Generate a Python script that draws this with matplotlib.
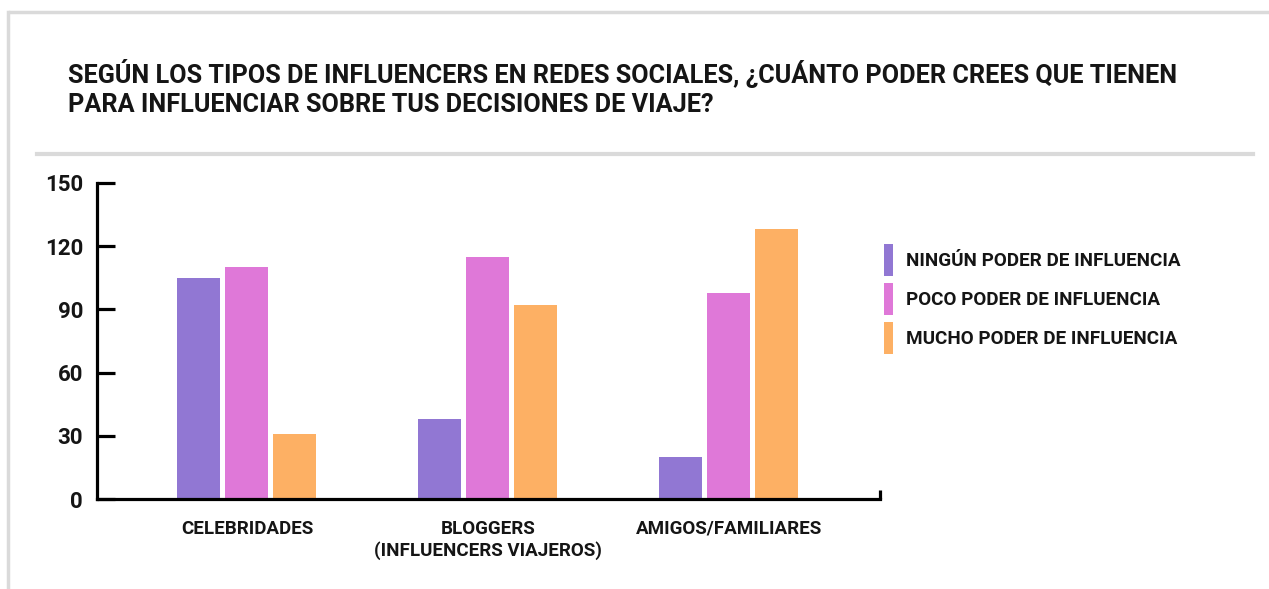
import numpy as np
import matplotlib
matplotlib.use("Agg")
import matplotlib.pyplot as plt
from matplotlib.lines import Line2D

################################################################
##### data

CATEGORIES = ["CELEBRIDADES", "BLOGGERS\n(INFLUENCERS VIAJEROS)", "AMIGOS/FAMILIARES"]
SERIES = [
    "NINGÚN PODER DE INFLUENCIA",
    "POCO PODER DE INFLUENCIA",
    "MUCHO PODER DE INFLUENCIA",
]
ningun = [105, 38, 20]
poco = [110, 115, 98]
mucho = [31, 92, 128]
Y_TICKS = [0, 30, 60, 90, 120, 150]

TITLE = ("SEGÚN LOS TIPOS DE INFLUENCERS EN REDES SOCIALES, ¿CUÁNTO PODER CREES QUE TIENEN\n"
         "PARA INFLUENCIAR SOBRE TUS DECISIONES DE VIAJE?")

COLORS = ["#9177D3", "#DF78D8", "#FDB064"]
TEXT_COLOR = "#151515"
FRAME_GRAY = "#dadada"
FONT = ["Roboto", "DejaVu Sans"]

################################################################

W, H = 1269, 589
fig = plt.figure(figsize=(W / 100, H / 100), dpi=100)

# axes box in pixels: x 97..880, y 183 (150) .. 499 (0)
ax = fig.add_axes([97 / W, 1 - 499 / H, (880 - 97) / W, (499 - 183) / H])

x = np.arange(len(CATEGORIES))
step = 0.199
width = 0.178
for i, (vals, label) in enumerate(zip([ningun, poco, mucho], SERIES)):
    ax.bar(x + (i - 1) * step, vals, width, color=COLORS[i], label=label, zorder=2)

ax.set_xlim(-0.622, 2.627)
ax.set_ylim(0, 150)
ax.set_yticks(Y_TICKS)
ax.set_xticks(x)
ax.set_xticklabels(CATEGORIES, family=FONT, weight="bold", fontsize=13.5,
                   color=TEXT_COLOR, linespacing=1.2)
ax.set_yticklabels([str(t) for t in Y_TICKS], family=FONT, weight="bold",
                   fontsize=16, color=TEXT_COLOR)

for side in ["top", "right"]:
    ax.spines[side].set_visible(False)
for side in ["left", "bottom"]:
    ax.spines[side].set_linewidth(2.3)
    ax.spines[side].set_color("#000000")
    ax.spines[side].set_capstyle("projecting")

ax.tick_params(axis="y", direction="in", length=13, width=2.3, pad=10, color="#000000")
ax.tick_params(axis="x", length=0, pad=15)

# small upturn at the right end of the x axis
ax.plot([1, 1], [0, 0.03], transform=ax.transAxes, color="#000000", lw=2.3,
        clip_on=False, solid_capstyle="butt")

leg = fig.legend(loc="upper left", bbox_to_anchor=(884 / W, 1 - 244 / H),
                 frameon=False, borderpad=0, borderaxespad=0,
                 handlelength=0.48, handleheight=2.22, handletextpad=0.7,
                 labelspacing=0.37, prop={"family": FONT, "weight": "bold", "size": 13.6})
for t in leg.get_texts():
    t.set_color(TEXT_COLOR)

fig.text(68 / W, 1 - 59 / H, TITLE, ha="left", va="top", family=FONT,
         weight="bold", fontsize=18.2, color=TEXT_COLOR, linespacing=1.27)

# card frame and separator line
fig.add_artist(Line2D([10 / W, 1], [1 - 12 / H, 1 - 12 / H], color=FRAME_GRAY, lw=2.5))
fig.add_artist(Line2D([8 / W, 8 / W], [0, 1 - 12 / H], color=FRAME_GRAY, lw=2.5))
fig.add_artist(Line2D([37 / W, 1253 / W], [1 - 154 / H, 1 - 154 / H], color=FRAME_GRAY, lw=3))

fig.savefig("out.png", dpi=100, facecolor="white")
